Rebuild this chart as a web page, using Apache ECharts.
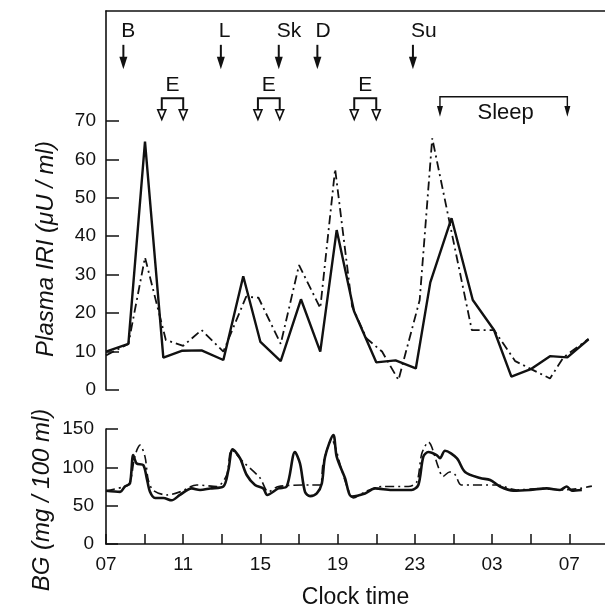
<!DOCTYPE html>
<html>
<head>
<meta charset="utf-8">
<script src="https://cdn.jsdelivr.net/npm/echarts@6/dist/echarts.min.js"></script>
<style>
html, body { margin: 0; background: #fff; }
#chart { width: 605px; height: 611px; }
</style>
</head>
<body>
<div id="chart"></div>
<script>
// x values are hours after 07:00
const iriSolid = [
    [0, 10], [1.16, 12], [2.02, 64.6], [2.97, 8.4], [3.92, 10.2], [4.95, 10.3],
    [6.08, 7.8], [7.11, 29.6], [8.0, 12.5], [9.05, 7.5], [10.1, 23.6], [11.1, 10],
    [11.95, 41.6], [12.85, 20.5], [14.0, 7.2], [15.0, 7.7], [16.05, 5.6], [16.8, 28],
    [17.9, 44.7], [19.0, 23.4], [20.1, 15.6], [21.0, 3.5], [22.0, 5.4], [23.0, 8.8],
    [23.9, 8.5], [25.0, 13.2]
];
const iriDashDot = [
    [0, 9], [1.16, 12], [2.02, 34.5], [3.1, 13], [4.0, 11.5], [4.95, 15.6],
    [6.08, 10], [7.26, 24.3], [7.9, 24], [9.05, 12], [10.0, 32.5], [11.1, 21.3],
    [11.87, 57.5], [12.75, 21.7], [13.5, 13.4], [14.3, 10], [15.15, 2.6], [16.25, 23.4],
    [16.9, 65.5], [17.74, 45], [18.95, 15.6], [20.1, 15.6], [21.2, 7.5], [23.0, 3],
    [23.7, 8.5], [25.0, 13.3]
];
const bgSolid = [
    [0, 69.5], [0.73, 68], [0.98, 75], [1.24, 79], [1.41, 116], [1.59, 105],
    [1.93, 103], [2.11, 86], [2.28, 68], [2.54, 60], [2.97, 60], [3.4, 57],
    [3.83, 64], [4.44, 72.5], [4.87, 70.5], [5.39, 72.5], [6.08, 75], [6.34, 96.5],
    [6.56, 123.5], [6.94, 112], [7.29, 90], [7.72, 77], [8.15, 72.5], [8.35, 64],
    [8.93, 72.5], [9.36, 75], [9.79, 120], [10.05, 105], [10.31, 68], [10.57, 62.5],
    [10.92, 66], [11.18, 79], [11.35, 114], [11.78, 142], [11.95, 114], [12.38, 86],
    [12.73, 62], [13.42, 66], [13.94, 72.5], [14.8, 70.5], [15.83, 70.5], [16.18, 77],
    [16.44, 114], [16.7, 120], [17.13, 116], [17.3, 112], [17.56, 121.7], [18.17, 112],
    [18.6, 94], [19.38, 86], [19.9, 83.5], [20.41, 75], [21.1, 69.5], [21.97, 70.5],
    [22.83, 72.5], [23.52, 70.5], [23.87, 75], [24.13, 69.5], [24.65, 70.5]
];
const bgDashDot = [
    [0, 69.5], [0.98, 75], [1.24, 80], [1.5, 115], [1.76, 129], [2.02, 114],
    [2.19, 83.5], [2.45, 70], [3.15, 64], [3.83, 68], [4.7, 77], [5.74, 75],
    [6.25, 90], [6.51, 122.6], [7.11, 107], [7.98, 86], [8.41, 68], [8.93, 75],
    [10.66, 77], [11.09, 77], [11.25, 105], [11.69, 135.6], [12.21, 96.5], [12.55, 70.5],
    [12.81, 60], [13.42, 68], [14.28, 75], [15.66, 75], [16.1, 81], [16.36, 118],
    [16.7, 133], [17.22, 100], [17.45, 88], [17.8, 94], [18.1, 90], [18.4, 77],
    [20.24, 77], [21.28, 70.5], [22.49, 72.5], [23.69, 70.5], [24.56, 72.5], [25.17, 75.5]
];

const tickHours = [0, 2, 4, 6, 8, 10, 12, 14, 16, 18, 20, 22, 24];
const labelHours = [0, 4, 8, 12, 16, 20, 24];
const iriTicks = [0, 10, 20, 30, 40, 50, 60, 70];
const bgTicks = [0, 50, 100, 150];

const meals = ['B', 'L', 'Sk', 'D', 'Su'];
const mealHours = [0.9, 5.95, 8.95, 10.95, 15.9];
const exercise = [[2.89, 4.0], [7.87, 9.0], [12.86, 14.0]];
const sleep = [[17.3, 23.9]];

const FONT = 'Liberation Sans';
const INK = '#111';

const clock = h => String((7 + h) % 24).padStart(2, '0');

const renderMeal = (params, api) => {
    const h = api.value(0);
    const lab = api.coord([h, 93.4]);
    const top = api.coord([h, 89.8]);
    const head = api.coord([h, 86.7]);
    const tip = api.coord([h, 83.45]);
    return {
        type: 'group',
        children: [
            { type: 'text', style: { text: meals[params.dataIndex], x: lab[0] - 2, y: lab[1], fill: INK,
                font: '21px ' + FONT, align: 'left', verticalAlign: 'middle' } },
            { type: 'line', shape: { x1: top[0], y1: top[1], x2: head[0], y2: head[1] + 1 },
                style: { stroke: INK, lineWidth: 2 } },
            { type: 'polygon', shape: { points: [[head[0] - 4, head[1]], [head[0] + 4, head[1]], [tip[0], tip[1]]] },
                style: { fill: INK } }
        ]
    };
};

const renderExercise = (params, api) => {
    const a = api.coord([api.value(0), 75.9]);
    const b = api.coord([api.value(1), 75.9]);
    const triTop = api.coord([0, 72.9])[1];
    const tipY = api.coord([0, 70.4])[1];
    const labY = api.coord([0, 79.4])[1];
    const tri = x => ({ type: 'polygon', shape: { points: [[x - 4, triTop], [x + 4, triTop], [x, tipY]] },
        style: { fill: '#fff', stroke: INK, lineWidth: 1.6 } });
    return {
        type: 'group',
        children: [
            { type: 'polyline', shape: { points: [[a[0], triTop], [a[0], a[1]], [b[0], b[1]], [b[0], triTop]] },
                style: { stroke: INK, lineWidth: 2, fill: null } },
            tri(a[0]), tri(b[0]),
            { type: 'text', style: { text: 'E', x: (a[0] + b[0]) / 2, y: labY, fill: INK,
                font: '21px ' + FONT, align: 'center', verticalAlign: 'middle' } }
        ]
    };
};

const renderSleep = (params, api) => {
    const a = api.coord([api.value(0), 76.3]);
    const b = api.coord([api.value(1), 76.3]);
    const headY = api.coord([0, 73.9])[1];
    const tipY = api.coord([0, 71.1])[1];
    const labY = api.coord([0, 72.1])[1];
    const head = x => ({ type: 'polygon', shape: { points: [[x - 3, headY], [x + 3, headY], [x, tipY]] },
        style: { fill: INK } });
    return {
        type: 'group',
        children: [
            { type: 'polyline', shape: { points: [[a[0], headY], [a[0], a[1]], [b[0], b[1]], [b[0], headY]] },
                style: { stroke: INK, lineWidth: 1.4, fill: null } },
            head(a[0]), head(b[0]),
            { type: 'text', style: { text: 'Sleep', x: (a[0] + b[0]) / 2 + 2, y: labY, fill: INK,
                font: '22px ' + FONT, align: 'center', verticalAlign: 'middle' } }
        ]
    };
};

const chart = echarts.init(document.getElementById('chart'), null, { renderer: 'canvas' });

const valueTick = (len, values) => ({ show: true, inside: true, length: len, customValues: values,
    lineStyle: { color: INK, width: 1.5 } });
const axisLine = { show: true, lineStyle: { color: INK, width: 1.6 } };
const labelStyle = { color: INK, fontFamily: FONT, fontSize: 19 };

const option = {
    backgroundColor: '#fff',
    animation: false,
    grid: [
        { left: 106, top: 11, right: 0, height: 379 },
        { left: 106, top: 429, right: 0, height: 115 }
    ],
    xAxis: [
        { type: 'value', gridIndex: 0, min: 0, max: 25.85, axisLine: { show: false }, axisTick: { show: false },
            axisLabel: { show: false }, splitLine: { show: false } },
        { type: 'value', gridIndex: 1, min: 0, max: 25.85,
            axisLine: axisLine,
            axisTick: valueTick(10, tickHours),
            axisLabel: Object.assign({ customValues: labelHours, margin: 11, formatter: v => clock(v) }, labelStyle),
            splitLine: { show: false },
            name: 'Clock time', nameLocation: 'middle', nameGap: 42,
            nameTextStyle: { color: INK, fontFamily: FONT, fontSize: 23 } },
        { type: 'value', gridIndex: 0, position: 'top', min: 0, max: 25.85,
            axisLine: axisLine, axisTick: { show: false }, axisLabel: { show: false }, splitLine: { show: false } }
    ],
    yAxis: [
        { type: 'value', gridIndex: 0, min: 0, max: 98.6,
            axisLine: axisLine,
            axisTick: valueTick(13, iriTicks),
            axisLabel: Object.assign({ customValues: iriTicks, margin: 10 }, labelStyle),
            splitLine: { show: false } },
        { type: 'value', gridIndex: 1, min: 0, max: 150, interval: 50,
            axisLine: axisLine,
            axisTick: valueTick(12, bgTicks),
            axisLabel: Object.assign({ customValues: bgTicks, margin: 12 }, labelStyle),
            splitLine: { show: false } }
    ],
    graphic: [
        { type: 'text', x: 46, y: 249, rotation: Math.PI / 2,
            style: { text: 'Plasma IRI (\u03bcU / ml)', fill: INK, font: 'italic 24px ' + FONT,
                align: 'center', verticalAlign: 'middle' } },
        { type: 'text', x: 42, y: 500, rotation: Math.PI / 2,
            style: { text: 'BG (mg / 100 ml)', fill: INK, font: 'italic 24px ' + FONT,
                align: 'center', verticalAlign: 'middle' } }
    ],
    series: [
        { type: 'line', xAxisIndex: 0, yAxisIndex: 0, data: iriSolid, showSymbol: false,
            lineStyle: { color: INK, width: 2.4 } },
        { type: 'line', xAxisIndex: 0, yAxisIndex: 0, data: iriDashDot, showSymbol: false,
            lineStyle: { color: INK, width: 1.8, type: [9, 4, 2, 4] } },
        { type: 'line', xAxisIndex: 1, yAxisIndex: 1, data: bgSolid, showSymbol: false, smooth: 0.3,
            lineStyle: { color: INK, width: 2.6 } },
        { type: 'line', xAxisIndex: 1, yAxisIndex: 1, data: bgDashDot, showSymbol: false, smooth: 0.3,
            lineStyle: { color: INK, width: 1.6, type: [9, 4, 2, 4] } },
        { type: 'custom', xAxisIndex: 0, yAxisIndex: 0, clip: false, renderItem: renderMeal,
            data: mealHours.map(h => [h]), encode: { x: 0 } },
        { type: 'custom', xAxisIndex: 0, yAxisIndex: 0, clip: false, renderItem: renderExercise,
            data: exercise, encode: { x: [0, 1] } },
        { type: 'custom', xAxisIndex: 0, yAxisIndex: 0, clip: false, renderItem: renderSleep,
            data: sleep, encode: { x: [0, 1] } }
    ]
};

chart.setOption(option);
</script>
</body>
</html>
